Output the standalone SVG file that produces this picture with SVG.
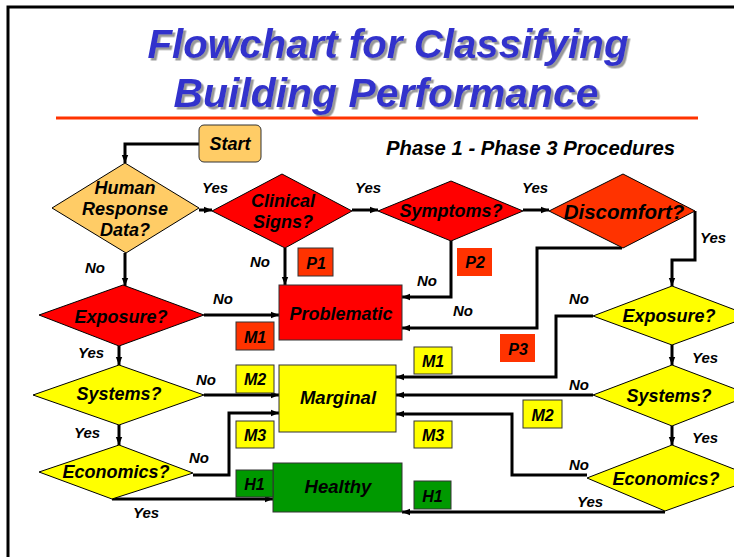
<svg xmlns="http://www.w3.org/2000/svg" width="734" height="557" viewBox="0 0 734 557">
<defs>
<marker id="arr" markerUnits="userSpaceOnUse" markerWidth="8" markerHeight="8" viewBox="0 0 8 8" refX="8" refY="4" orient="auto">
<path d="M0,0.8 L8,4 L0,7.2 Z" fill="#000"/>
</marker>
<filter id="sh" x="-5%" y="-20%" width="110%" height="140%">
<feDropShadow dx="2.5" dy="2.5" stdDeviation="0.6" flood-color="#999999" flood-opacity="1"/>
</filter>
</defs>
<style>
text{font-family:"Liberation Sans",Arial,sans-serif;font-weight:bold;font-style:italic;fill:#000}
.title{font-size:40px;fill:#3333CC;text-anchor:middle}
.sub{font-size:19.5px}
.node{font-size:18px;text-anchor:middle}
.lbl{font-size:15px}
.tag{font-size:16px;text-anchor:middle}
.dia{stroke:#000;stroke-width:1}
.box{stroke:#333;stroke-width:1}
.orange{fill:#FFCC66}
.red{fill:#FF0000}
.ored{fill:#FF3300}
.yel{fill:#FFFF00}
.grn{fill:#009900}
.conn path{fill:none;stroke:#000;stroke-width:3}
.conn path.a{marker-end:url(#arr)}
</style>
<rect width="734" height="557" fill="#fff"/>
<path d="M8,557 V7 H734" fill="none" stroke="#000" stroke-width="3"/>
<g filter="url(#sh)">
<text class="title" x="388" y="58" textLength="481" lengthAdjust="spacingAndGlyphs">Flowchart for Classifying</text>
<text class="title" x="386" y="107" textLength="425" lengthAdjust="spacingAndGlyphs">Building Performance</text>
</g>
<line x1="56" y1="118" x2="698" y2="118" stroke="#FF3300" stroke-width="3"/>
<text class="sub" x="386" y="155" textLength="289" lengthAdjust="spacingAndGlyphs">Phase 1 - Phase 3 Procedures</text>

<g class="conn" id="connectors">
<path class="a" d="M199,144 H125 V163"/>
<path class="a" d="M199,210 H212"/>
<path class="a" d="M352,210 H378"/>
<path class="a" d="M523,210 H549"/>
<path class="a" d="M695,211 V260 H672 V286"/>
<path class="a" d="M125,253 V286"/>
<path class="a" d="M285,248 V285"/>
<path class="a" d="M451,241 V297 H402"/>
<path class="a" d="M622,248 H537 V328 H402"/>
<path class="a" d="M204,315 H279"/>
<path class="a" d="M119,346 V365"/>
<path class="a" d="M204,395 H279"/>
<path class="a" d="M119,425 V445"/>
<path class="a" d="M193,475 H229 V413 H279"/>
<path class="a" d="M112,499 H273"/>
<path class="a" d="M593,316 H556 V377 H396"/>
<path class="a" d="M672,345 V365"/>
<path class="a" d="M593,395 H396"/>
<path class="a" d="M672,426 V445"/>
<path class="a" d="M587,475 H512 V414 H396"/>
<path class="a" d="M665,512 H402"/>
</g>

<g id="start"><rect class="box orange" x="199" y="125" width="62" height="37" rx="5"/><text class="node" x="230" y="150">Start</text></g>
<g id="human"><polygon class="dia orange" points="125,163 199,208 126,253 52,208"/><text class="node" x="125" y="194">Human</text><text class="node" x="125" y="215">Response</text><text class="node" x="125" y="236">Data?</text></g>
<g id="clinical"><polygon class="dia red" points="282,174 352,211 285,248 212,211"/><text class="node" x="283" y="207">Clinical</text><text class="node" x="283" y="228">Signs?</text></g>
<g id="symptoms"><polygon class="dia red" points="451,181 523,211 451,241 378,211"/><text class="node" x="451" y="217">Symptoms?</text></g>
<g id="discomfort"><polygon class="dia ored" points="623,174 695,211 623,248 549,211"/><text class="node" x="624" y="219" style="font-size:20.5px">Discomfort?</text></g>
<g id="exposureL"><polygon class="dia red" points="123,285 204,315 119,346 39,315"/><text class="node" x="121" y="323">Exposure?</text></g>
<g id="systemsL"><polygon class="dia yel" points="119,365 204,395 119,425 33,395"/><text class="node" x="119" y="400">Systems?</text></g>
<g id="economicsL"><polygon class="dia yel" points="119,445 193,473 112,499 39,472"/><text class="node" x="116" y="478">Economics?</text></g>
<g id="exposureR"><polygon class="dia yel" points="672,286 751,316 672,345 593,316"/><text class="node" x="669" y="322">Exposure?</text></g>
<g id="systemsR"><polygon class="dia yel" points="672,365 751,395 672,426 593,395"/><text class="node" x="669" y="402">Systems?</text></g>
<g id="economicsR"><polygon class="dia yel" points="672,445 757,478 665,511 587,478"/><text class="node" x="666" y="485">Economics?</text></g>

<g id="problematic"><rect class="box red" x="279" y="285" width="123" height="55"/><text class="node" x="341" y="320">Problematic</text></g>
<g id="marginal"><rect class="box yel" x="279" y="365" width="117" height="67"/><text class="node" x="338" y="404" style="font-size:18.5px">Marginal</text></g>
<g id="healthy"><rect class="box grn" x="273" y="463" width="129" height="49"/><text class="node" x="338" y="493" style="font-size:18.5px">Healthy</text></g>

<g id="p1"><rect class="box ored" x="298" y="248" width="35" height="28"/><text class="tag" x="316" y="269">P1</text></g>
<g id="p2"><rect class="ored" x="457" y="248" width="35" height="28"/><text class="tag" x="475" y="268">P2</text></g>
<g id="p3"><rect class="ored" x="500" y="334" width="35" height="28"/><text class="tag" x="518" y="355">P3</text></g>
<g id="m1L"><rect class="box ored" x="236" y="322" width="38" height="28"/><text class="tag" x="255" y="343">M1</text></g>
<g id="m2L"><rect class="box yel" x="236" y="365" width="38" height="28"/><text class="tag" x="255" y="385">M2</text></g>
<g id="m3L"><rect class="box yel" x="236" y="421" width="38" height="27"/><text class="tag" x="255" y="441">M3</text></g>
<g id="h1L"><rect class="box grn" x="236" y="470" width="37" height="27"/><text class="tag" x="254.5" y="490">H1</text></g>
<g id="m1R"><rect class="box yel" x="414" y="347" width="38" height="27"/><text class="tag" x="433" y="367">M1</text></g>
<g id="m2R"><rect class="box yel" x="523" y="400" width="39" height="28"/><text class="tag" x="542.5" y="421">M2</text></g>
<g id="m3R"><rect class="box yel" x="414" y="421" width="38" height="27"/><text class="tag" x="433" y="441">M3</text></g>
<g id="h1R"><rect class="box grn" x="414" y="481" width="37" height="28"/><text class="tag" x="432.5" y="502">H1</text></g>

<g id="labels">
<text class="lbl" x="202" y="193">Yes</text>
<text class="lbl" x="355" y="193">Yes</text>
<text class="lbl" x="522" y="193">Yes</text>
<text class="lbl" x="700" y="243">Yes</text>
<text class="lbl" x="85" y="273">No</text>
<text class="lbl" x="250" y="267">No</text>
<text class="lbl" x="417" y="286">No</text>
<text class="lbl" x="453" y="316">No</text>
<text class="lbl" x="213" y="304">No</text>
<text class="lbl" x="78" y="358">Yes</text>
<text class="lbl" x="196" y="385">No</text>
<text class="lbl" x="74" y="438">Yes</text>
<text class="lbl" x="189" y="463">No</text>
<text class="lbl" x="133" y="518">Yes</text>
<text class="lbl" x="569" y="304">No</text>
<text class="lbl" x="692" y="363">Yes</text>
<text class="lbl" x="569" y="390">No</text>
<text class="lbl" x="692" y="443">Yes</text>
<text class="lbl" x="569" y="470">No</text>
<text class="lbl" x="577" y="507">Yes</text>
</g>
</svg>
